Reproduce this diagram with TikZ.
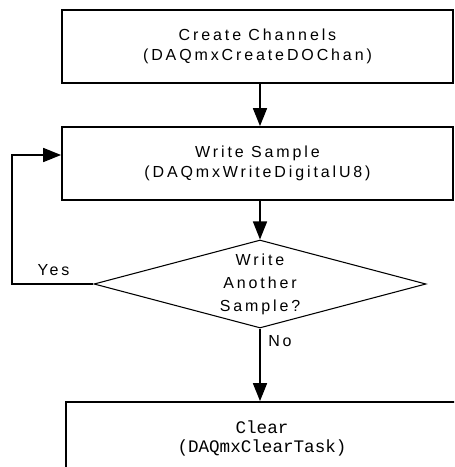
\documentclass[tikz,border=0pt]{standalone}
\usepackage{fontspec}
\setmainfont{Liberation Sans}[LetterSpace=18]
\newfontfamily\monofont{Liberation Mono}
\usetikzlibrary{shapes.geometric,arrows.meta}
\tikzset{
  procbox/.style={draw, line width=1.3pt, minimum width=293.25pt, minimum height=54.75pt,
    align=center, inner sep=0pt, font=\fontsize{12pt}{15pt}\selectfont},
  decision/.style={draw, diamond, aspect=3.77, line width=0.8pt, minimum width=249pt, minimum height=66pt,
    inner sep=0pt, align=center, font=\fontsize{12pt}{17.25pt}\selectfont},
  flow/.style={line width=1.2pt, -{Triangle[length=13.5pt,width=10.5pt]}},
  lbl/.style={inner sep=0pt, font=\fontsize{12pt}{13pt}\selectfont}
}
\begin{document}
\begin{tikzpicture}[x=0.75pt,y=-0.75pt]
\useasboundingbox (0,0) rectangle (454,467);
\clip (0,0) rectangle (454,467);
\node[procbox] (create) at (257.5,46.5) {Create Channels\\(DAQmxCreateDOChan)};
\node[procbox] (write) at (257.5,163.5) {Write Sample\\(DAQmxWriteDigitalU8)};
\node[decision] (dec) at (260,284) {Write\\Another\\Sample?};
\node[procbox, minimum width=294pt, font=\monofont\fontsize{13.2pt}{14pt}\selectfont] (clear) at (262,438.5) {Clear\\(DAQmxClearTask)};
\node[lbl] (yes) at (53.5,270) {Yes};
\node[lbl, anchor=west] (no) at (268,341) {No};
\coordinate (lp) at (12,155);
\draw[flow] (create.south -| dec.north) -- (dec.north |- write.north);
\draw[flow] (write.south -| dec.north) -- (dec.north);
\draw[flow] (dec.south) -- (dec.south |- clear.north);
\draw[flow] (dec.west) -| (lp) -- (lp -| write.west);
\end{tikzpicture}
\end{document}
